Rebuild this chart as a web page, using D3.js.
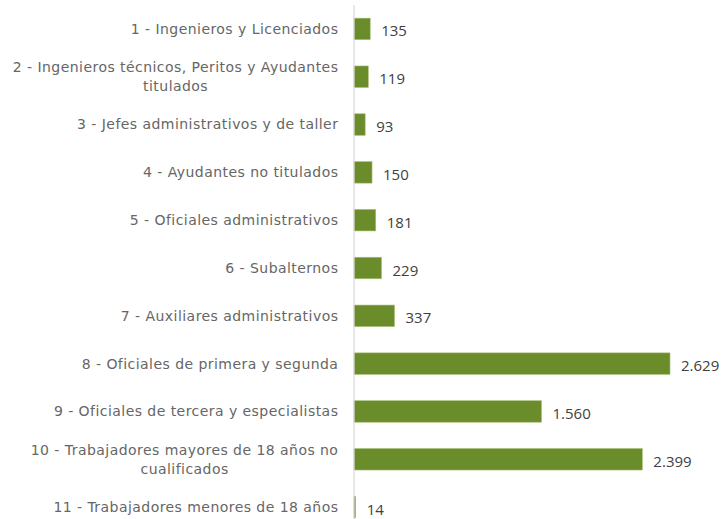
<!DOCTYPE html>
<html><head><meta charset="utf-8">
<script src="https://cdn.jsdelivr.net/npm/d3@7"></script>
<style>body{margin:0;background:#fff}svg{display:block}</style>
</head><body>
<svg id="c" width="723" height="519"></svg>
<script>
const categories = [
  ["1 - Ingenieros y Licenciados"],
  ["2 - Ingenieros técnicos, Peritos y Ayudantes", "titulados"],
  ["3 - Jefes administrativos y de taller"],
  ["4 - Ayudantes no titulados"],
  ["5 - Oficiales administrativos"],
  ["6 - Subalternos"],
  ["7 - Auxiliares administrativos"],
  ["8 - Oficiales de primera y segunda"],
  ["9 - Oficiales de tercera y especialistas"],
  ["10 - Trabajadores mayores de 18 años no", "cualificados"],
  ["11 - Trabajadores menores de 18 años"]
];
const values = [135, 119, 93, 150, 181, 229, 337, 2629, 1560, 2399, 14];
const valueLabels = ["135","119","93","150","181","229","337","2.629","1.560","2.399","14"];

const svg = d3.select("#c");
const keys = categories.map((c,i)=>i);
const y = d3.scaleBand().domain(keys).range([5, 531]).paddingInner(0.55).paddingOuter(0.275);
const x = d3.scaleLinear().domain([0, 3000]).range([354, 714.6]);

svg.append("g").selectAll("rect").data(values).join("rect")
  .attr("x", x(0)).attr("y", (d,i)=>y(i))
  .attr("width", d=>x(d)-x(0)).attr("height", y.bandwidth())
  .attr("fill", "#6b8c2a").attr("stroke","#a9c07a").attr("stroke-width",0.6);

svg.append("line").attr("x1", x(0)).attr("x2", x(0)).attr("y1", 5).attr("y2", 519)
  .attr("stroke", "#d9d9d9").attr("stroke-width", 1.2);

svg.append("g").selectAll("text").data(values).join("text")
  .attr("x", d=>x(d)+11).attr("y", (d,i)=>y(i)+y.bandwidth()/2)
  .attr("dy","0.5em")
  .attr("font-family","'Open Sans', sans-serif").attr("font-size", 15)
  .attr("fill","#404040").text((d,i)=>valueLabels[i]);

const lab = svg.append("g").selectAll("text").data(categories).join("text")
  .attr("text-anchor","middle")
  .attr("font-family","'DejaVu Sans', sans-serif").attr("font-size", 14)
  .attr("letter-spacing", "0.45px")
  .attr("fill","#666666");
lab.each(function(lines,i){
  const t = d3.select(this);
  const cy = y(i)+y.bandwidth()/2;
  const n = lines.length;
  lines.forEach((s,j)=>{
    t.append("tspan").attr("x", 0).attr("y", cy + (j-(n-1)/2)*19).attr("dy","0.35em").text(s);
  });
});
lab.each(function(){
  const t = d3.select(this);
  const w = this.getBBox().width;
  t.selectAll("tspan").attr("x", 338.4 - w/2);
});
</script>
</body></html>
